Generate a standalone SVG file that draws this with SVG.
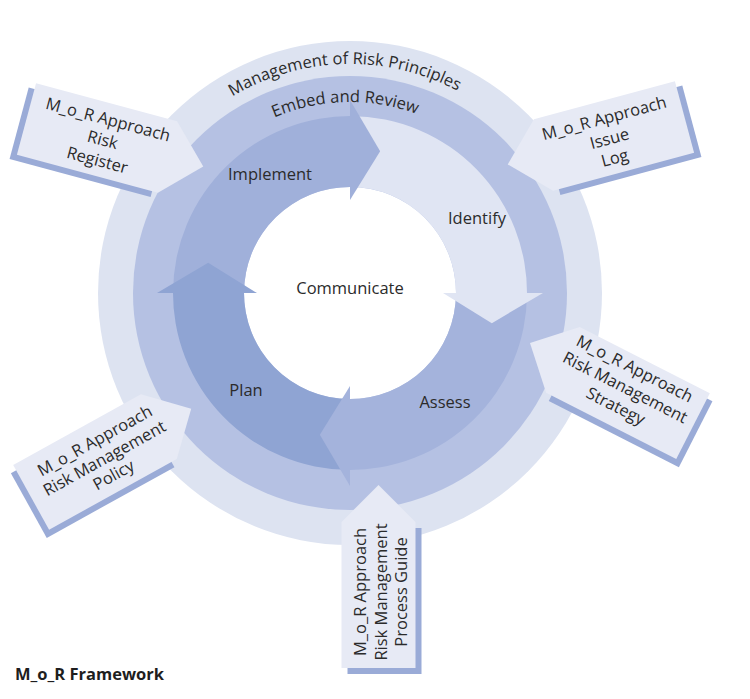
<svg xmlns="http://www.w3.org/2000/svg" width="750" height="699" viewBox="0 0 750 699">
<style>
text { font-family: "Open Sans", "Noto Sans", "Liberation Sans", sans-serif; font-size: 16.5px; fill: #2b2b2b; }
.title { font-weight: bold; fill: #1e1e1e; }
.c { text-anchor: middle; }
.callout { fill: #e7eaf5; }
.shadow { fill: #9aabd7; }
.outer { fill: #dde3f1; }
.middle { fill: #b5c1e3; }
.implement { fill: #a0b0da; }
.identify { fill: #e0e5f3; }
.assess { fill: #a4b3dc; }
.plan { fill: #8fa4d3; }
</style>
<defs>
<path id="arcOuter" d="M121,293 A229,229 0 0 1 579,293"/>
<path id="arcMiddle" d="M159,293 A191,191 0 0 1 541,293"/>
<path id="cR" d="M-73,-37 H73 L110,0 L73,37 H-73 Z"/>
<path id="cL" d="M73,-37 H-73 L-110,0 L-73,37 H73 Z"/>
</defs>
<rect width="750" height="699" fill="#ffffff"/>

<g id="rings">
<circle cx="350" cy="293" r="252" class="outer"/>
<circle cx="350" cy="293" r="217" class="middle"/>
<circle cx="350" cy="293" r="106" fill="#ffffff"/>
<text><textPath href="#arcOuter" startOffset="49.2%" text-anchor="middle">Management of Risk Principles</textPath></text>
<text><textPath href="#arcMiddle" startOffset="49.2%" text-anchor="middle">Embed and Review</textPath></text>
</g>

<g id="connectors">
<g id="plan">
<path class="plan" d="M350,470 A177,177 0 0 1 173.06,288.37 L244.04,290.22 A106,106 0 0 0 350,399 Z"/>
<text class="c" x="246" y="396">Plan</text>
</g>
<g id="assess">
<path class="assess" d="M527,293 A177,177 0 0 1 345.37,469.94 L347.22,398.96 A106,106 0 0 0 456,293 Z"/>
<path class="assess" d="M350,486 L350,386 L319.85,434.83 Z"/>
<text class="c" x="445" y="408">Assess</text>
</g>
<g id="identify">
<path class="identify" d="M350,116 A177,177 0 0 1 526.94,297.63 L455.96,295.78 A106,106 0 0 0 350,187 Z"/>
<path class="identify" d="M543,293 L443,293 L491.82,323.15 Z"/>
<text class="c" x="477" y="224">Identify</text>
</g>
<g id="implement">
<path class="implement" d="M173,293 A177,177 0 0 1 354.63,116.06 L352.78,187.04 A106,106 0 0 0 244,293 Z"/>
<path class="implement" d="M350,100 L350,200 L380.15,151.17 Z"/>
<text class="c" x="270" y="180">Implement</text>
</g>
<g id="plan-head">
<path class="plan" d="M157,293 L257,293 L208.18,262.85 Z"/>
</g>
</g>

<g id="communicate">
<text class="c" x="350" y="294">Communicate</text>
</g>

<g id="risk-register" transform="translate(97,138) rotate(15)">
<rect class="shadow" x="-79" y="-31" width="146" height="74"/>
<use href="#cR" class="callout"/>
<text class="c" x="6" y="-15">M_o_R Approach</text>
<text class="c" x="6" y="6">Risk</text>
<text class="c" x="6" y="27">Register</text>
</g>

<g id="issue-log" transform="translate(614,136) rotate(-15)">
<rect class="shadow" x="-67" y="-31" width="146" height="74"/>
<use href="#cL" class="callout"/>
<text class="c" x="-5" y="-14">M_o_R Approach</text>
<text class="c" x="-5" y="7">Issue</text>
<text class="c" x="-5" y="27">Log</text>
</g>

<g id="strategy" transform="translate(628,393) rotate(27)">
<rect class="shadow" x="-67" y="-31" width="146" height="74"/>
<use href="#cL" class="callout"/>
<text class="c" x="-5" y="-19">M_o_R Approach</text>
<text class="c" x="-5" y="2">Risk Management</text>
<text class="c" x="-5" y="23">Strategy</text>
</g>

<g id="policy" transform="translate(95,462) rotate(-29)">
<rect class="shadow" x="-79" y="-31" width="146" height="74"/>
<use href="#cR" class="callout"/>
<text class="c" x="10" y="-13">M_o_R Approach</text>
<text class="c" x="10" y="7">Risk Management</text>
<text class="c" x="10" y="26">Policy</text>
</g>

<g id="process-guide" transform="translate(378.5,595) rotate(-90)">
<rect class="shadow" x="-79" y="-31" width="146" height="74"/>
<use href="#cR" class="callout"/>
<text class="c" x="3" y="-13">M_o_R Approach</text>
<text class="c" x="3" y="8">Risk Management</text>
<text class="c" x="3" y="28">Process Guide</text>
</g>

<g id="title">
<text class="title" x="15" y="680">M_o_R Framework</text>
</g>
</svg>
